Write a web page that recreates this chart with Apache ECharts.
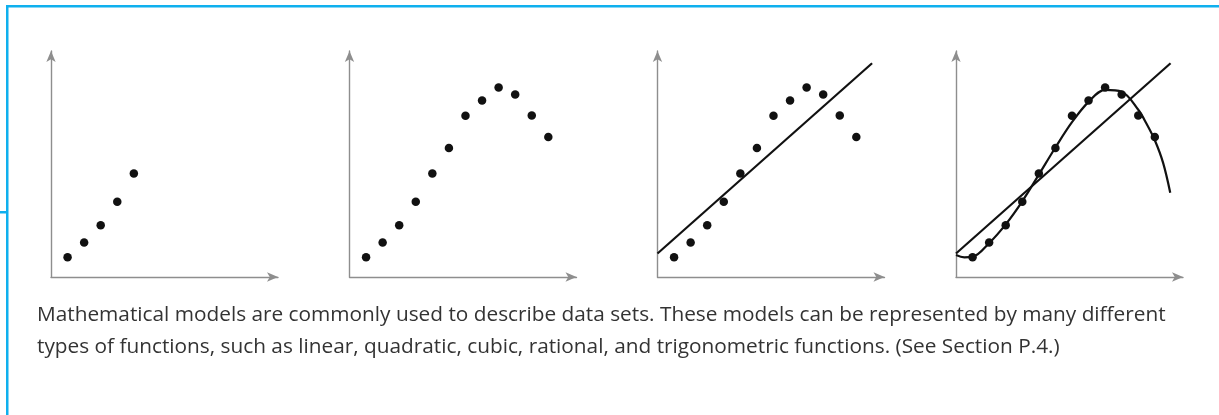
<!DOCTYPE html>
<html>
<head>
<meta charset="utf-8">
<script src="https://cdn.jsdelivr.net/npm/echarts@6/dist/echarts.min.js"></script>
<style>
  html, body { margin: 0; padding: 0; background: #ffffff; }
  #chart { width: 1219px; height: 415px; }
</style>
</head>
<body>
<div id="chart"></div>
<script>
// Observations shared by the four panels (x = observation number, y = measured value)
const obsX = [1, 2, 3, 4, 5, 6, 7, 8, 9, 10, 11, 12];
const obsY = [8.7, 15.3, 22.9, 33.3, 45.8, 57.1, 71.3, 78.1, 83.8, 80.8, 71.5, 61.9];

// The first panel shows only the earliest observations
const firstCount = 5;

// Linear model: endpoints of the fitted line
const lineX = [0, 12.95];
const lineY = [10.4, 94.6];

// Cubic model: points along the fitted curve
const cubicX = [0, 0.5, 1, 2, 3, 4, 5, 6, 7, 8, 9, 10, 11, 11.5, 12, 12.5, 12.93];
const cubicY = [9.7, 8.7, 8.9, 15.0, 23.3, 33.5, 45.3, 57.3, 68.5, 77.5, 82.8, 82.0, 74.0, 67.8, 60.5, 50.5, 37.3];

// Caption beneath the panels
const captionLines = [
  'Mathematical models are commonly used to describe data sets. These models can be represented by many different',
  'types of functions, such as linear, quadratic, cubic, rational, and trigonometric functions. (See Section P.4.)'
];

const pair = (xs, ys) => xs.map((x, i) => [x, ys[i]]);

const panelLefts = [51, 349.5, 657.5, 956];
const axisGray = '#8e8e8e';
const ink = '#111111';

const grids = panelLefts.map(l => ({ left: l, top: 51, width: 227, height: 226 }));

const axisCommon = {
  type: 'value',
  axisLine: {
    show: true,
    onZero: false,
    symbol: ['none', 'arrow'],
    symbolSize: [7, 11],
    lineStyle: { color: axisGray, width: 1.4 }
  },
  axisTick: { show: false },
  axisLabel: { show: false },
  splitLine: { show: false }
};

const xAxes = grids.map((g, i) => Object.assign({}, axisCommon, { gridIndex: i, min: 0, max: 13.7 }));
const yAxes = grids.map((g, i) => Object.assign({}, axisCommon, { gridIndex: i, min: 0, max: 100 }));

const dots = (i, data) => ({
  type: 'scatter',
  xAxisIndex: i, yAxisIndex: i,
  data: data,
  symbol: 'circle',
  symbolSize: 8.5,
  itemStyle: { color: ink, opacity: 1 },
  z: 5,
  silent: true
});

const curve = (i, data, smooth) => ({
  type: 'line',
  xAxisIndex: i, yAxisIndex: i,
  data: data,
  showSymbol: false,
  smooth: smooth,
  lineStyle: { color: ink, width: 2.2 },
  z: 3,
  silent: true
});

const allObs = pair(obsX, obsY);

const series = [
  dots(0, allObs.slice(0, firstCount)),
  dots(1, allObs),
  curve(2, pair(lineX, lineY), false),
  dots(2, allObs),
  curve(3, pair(lineX, lineY), false),
  curve(3, pair(cubicX, cubicY), 0.35),
  dots(3, allObs)
];

const frameBlue = '#0fb0ee';
const captionFont = '20.8px "Open Sans", "Liberation Sans", Arial, sans-serif';

const chart = echarts.init(document.getElementById('chart'), null, { renderer: 'canvas' });
chart.setOption({
  animation: false,
  backgroundColor: '#ffffff',
  grid: grids,
  xAxis: xAxes,
  yAxis: yAxes,
  series: series,
  graphic: [
    // frame: top rule, left rule and small marker
    { type: 'rect', shape: { x: 6, y: 5, width: 1213, height: 2.5 }, style: { fill: frameBlue }, silent: true },
    { type: 'rect', shape: { x: 6, y: 5, width: 2.5, height: 410 }, style: { fill: frameBlue }, silent: true },
    { type: 'rect', shape: { x: 0, y: 211, width: 7, height: 2.5 }, style: { fill: frameBlue }, silent: true },
    {
      type: 'text', left: 37, top: 304.5, silent: true,
      style: { text: captionLines[0], fill: '#333333', font: captionFont }
    },
    {
      type: 'text', left: 37, top: 336.5, silent: true,
      style: { text: captionLines[1], fill: '#333333', font: captionFont }
    }
  ]
});
</script>
</body>
</html>
